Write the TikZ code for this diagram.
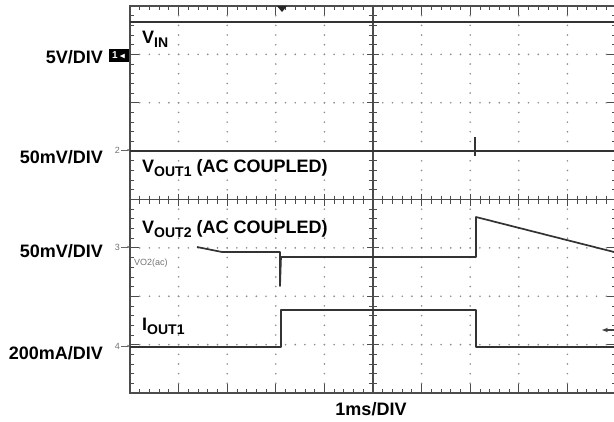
\documentclass[tikz,border=0pt]{standalone}
\usepackage{amssymb}
\usepackage{fontspec}
\setmainfont{Liberation Sans}
\usetikzlibrary{positioning,arrows.meta}
\newcommand{\lsub}[1]{\raisebox{-4pt}{\fontsize{14}{14}\selectfont #1}}
\tikzset{
	trace/.style={line width=1.7pt,draw=black!80,line join=round},
	frame/.style={line width=1.1pt,draw=black!70},
	scalelabel/.style={font=\fontsize{18}{18}\selectfont\bfseries,anchor=base east,inner sep=0pt},
	tracelabel/.style={font=\fontsize{18}{18}\selectfont\bfseries,anchor=base west,inner sep=0pt},
	chanmark/.style={font=\fontsize{9}{9}\selectfont,text=black!55,anchor=east,inner sep=0pt},
}

\begin{document}
\begin{tikzpicture}[x=1pt,y=-1pt]
	\useasboundingbox (0,0) rectangle (614,421);
	% grid dots
	\foreach \i in {1,2,3,4,6,7,8,9} {
		\foreach \j in {1,...,39}
			\fill[black!45] (130+\i*48.6,6+\j*9.675) circle (0.9);
	}
	\foreach \k in {1,2,3,5,6,7} {
		\foreach \i in {1,...,49}
			\fill[black!45] (130+\i*9.72,6+\k*48.375) circle (0.9);
	}
	% frame and center axes
	\draw[frame] (130,6) rectangle (616,393);
	\draw[frame] (373,6) -- (373,393);
	\draw[frame] (130,199.5) -- (616,199.5);
	\foreach \i in {1,...,49} {
		\pgfmathsetmacro{\len}{ifthenelse(mod(\i,5)==0,9,4)}
		\pgfmathsetmacro{\ctr}{ifthenelse(mod(\i,5)==0,6,4)}
		\draw[frame,line width=0.8pt] (130+\i*9.72,6) -- ++(0,\len);
		\draw[frame,line width=0.8pt] (130+\i*9.72,393) -- ++(0,-\len);
		\draw[frame,line width=0.8pt] (130+\i*9.72,199.5-\ctr) -- ++(0,2*\ctr);
	}
	\foreach \j in {1,...,39} {
		\pgfmathsetmacro{\len}{ifthenelse(mod(\j,5)==0,9,4)}
		\pgfmathsetmacro{\ctr}{ifthenelse(mod(\j,5)==0,6,4)}
		\draw[frame,line width=0.8pt] (130,6+\j*9.675) -- ++(\len,0);
		\draw[frame,line width=0.8pt] (616,6+\j*9.675) -- ++(-\len,0);
		\draw[frame,line width=0.8pt] (373-\ctr,6+\j*9.675) -- ++(2*\ctr,0);
	}
	% trigger marker
	\fill[black!85] (277,6) -- (287,6) -- (282,12) -- cycle;
	% traces
	\draw[trace] (130,22) -- (614,22);
	\draw[trace] (130,151) -- (614,151);
	\draw[trace,line width=1.2pt] (475,137) -- (475,156);
	\draw[trace] (197,247) -- (222,252) -- (280,252) -- (280,286) -- (281,257) -- (476,257) -- (476,217) -- (614,252);
	\draw[trace] (130,347) -- (281,347) -- (281,310) -- (476,310) -- (476,347) -- (614,347);
	% trace labels
	\node[tracelabel] (vin) at (142,43) {V\lsub{IN}};
	\node[tracelabel] (vout1) at (142,172) {V\lsub{OUT1} (AC COUPLED)};
	\node[tracelabel] (vout2) at (142,233) {V\lsub{OUT2} (AC COUPLED)};
	\node[tracelabel] (iout1) at (142,330) {I\lsub{OUT1}};
	\node[chanmark,anchor=west] (vo2) at (134,263) {VO2(ac)};
	% channel markers
	\node[fill=black,text=white,font=\fontsize{10}{10}\selectfont\bfseries,inner sep=1pt,minimum width=20pt,minimum height=13pt,anchor=east] (ch1) at (129,55) {1\,{\fontsize{8}{8}\selectfont$\blacktriangleleft$}};
	\node[chanmark] (ch2) at (120,150) {2};
	\node[chanmark] (ch3) at (120,247) {3};
	\node[chanmark] (ch4) at (120,346) {4};
	\foreach \c in {ch2,ch3,ch4}
		\draw[black!60,line width=1pt,-{Stealth[length=3pt]}] ([xshift=1pt]\c.east) -- ++(9,0);
	\draw[black!75,line width=1.2pt,-{Stealth[length=6pt]}] (614,330) -- (602,330);
	% scale labels
	\node[scalelabel] (s1) at (103,63) {5V/DIV};
	\node[scalelabel] (s2) at (103,163) {50mV/DIV};
	\node[scalelabel] (s3) at (103,257) {50mV/DIV};
	\node[scalelabel] (s4) at (103,359) {200mA/DIV};
	\node[font=\fontsize{18}{18}\selectfont\bfseries,anchor=base,inner sep=0pt] (tdiv) at (371,415) {1ms/DIV};
\end{tikzpicture}
\end{document}
